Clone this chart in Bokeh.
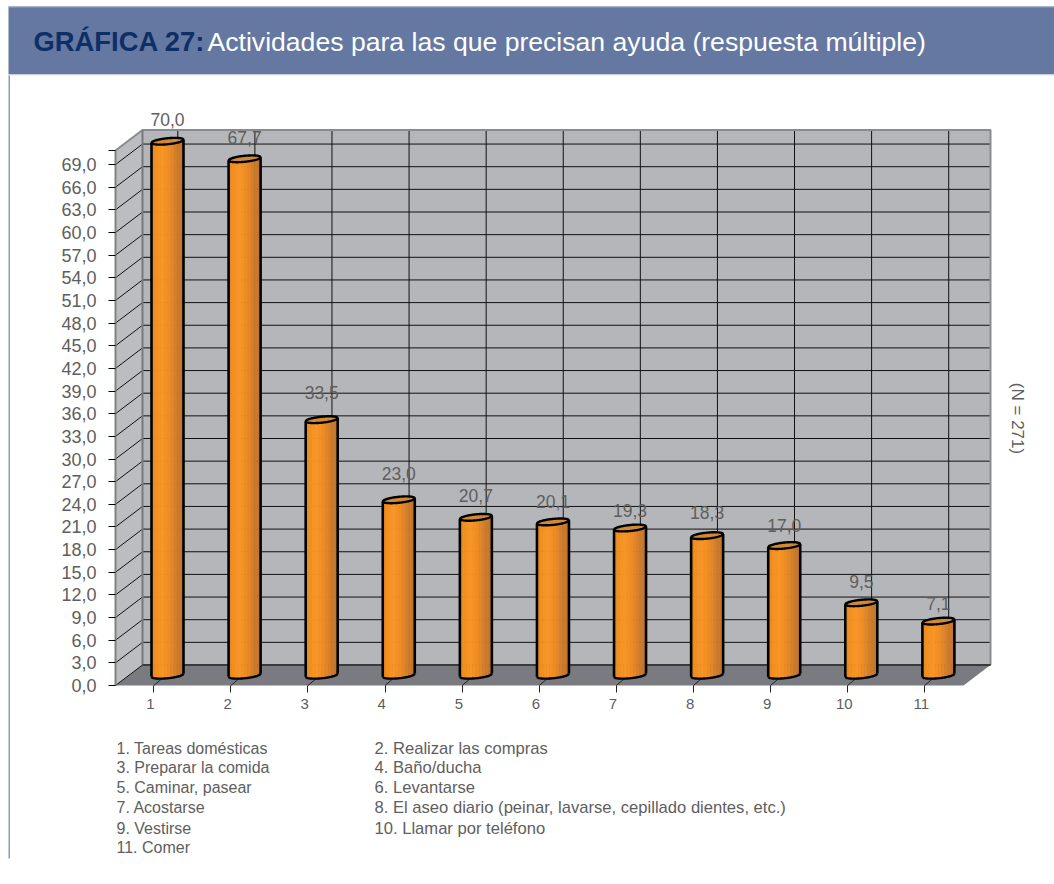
import numpy as np
from bokeh.embed import file_html
from bokeh.resources import INLINE
from bokeh.plotting import figure
from bokeh.models import FixedTicker, LinearAxis, Range1d
from bokeh.core.properties import value

categories = [1, 2, 3, 4, 5, 6, 7, 8, 9, 10, 11]
values = [70.0, 67.7, 33.5, 23.0, 20.7, 20.1, 19.3, 18.3, 17.0, 9.5, 7.1]
value_labels = ["70,0", "67,7", "33,5", "23,0", "20,7", "20,1", "19,3", "18,3", "17,0", "9,5", "7,1"]
label_gaps = [22, 21, 27, 26, 22, 20, 18, 23, 20, 21, 18]
y_ticks = [0, 3, 6, 9, 12, 15, 18, 21, 24, 27, 30, 33, 36, 39, 42, 45, 48, 51, 54, 57, 60, 63, 66, 69]
y_labels = ["0,0", "3,0", "6,0", "9,0", "12,0", "15,0", "18,0", "21,0", "24,0", "27,0", "30,0", "33,0",
            "36,0", "39,0", "42,0", "45,0", "48,0", "51,0", "54,0", "57,0", "60,0", "63,0", "66,0", "69,0"]
legend_left = ["1. Tareas domésticas", "3. Preparar la comida", "5. Caminar, pasear", "7. Acostarse", "9. Vestirse", "11. Comer"]
legend_right = ["2. Realizar las compras", "4. Baño/ducha", "6. Levantarse",
                "8. El aseo diario (peinar, lavarse, cepillado dientes, etc.)", "10. Llamar por teléfono"]
legend_rows = [748, 767, 787, 807, 828, 847]
strip_colors = ["#E88A22", "#F38F20", "#F7931E", "#F8952A", "#F59122", "#EE8C22",
                "#E2862A", "#D67F2A", "#CB7A2B", "#C3762B"]

TEXT = "#5e5e5e"
FONT = "Liberation Sans"
AX_TOP = 70.86          # top of the front axis
PX_X = 77.09            # pixels per category
PX_Y = 7.55             # pixels per axis unit
PX_BAR = 534 / 70       # pixels per bar unit (3D projection of the value scale)
X0 = 0.546              # front-left corner of the floor
X1 = X0 + 848 / PX_X    # front-right corner of the floor
DX = 27 / PX_X          # depth offset
DY = 20.5 / PX_Y
W, H = 1054, 884


def dx(px):
    return X0 + (px - 115) / PX_X


def dy(py):
    return (685 - py) / PX_Y


p = figure(width=W, height=H, output_backend="svg", toolbar_location=None,
           x_range=Range1d(dx(0), dx(W)), y_range=Range1d(dy(H), dy(0)),
           min_border=0, x_axis_type=None, y_axis_type=None, outline_line_color=None,
           background_fill_color="white", border_fill_color="white")
p.grid.visible = False
p.extra_y_ranges = {"bars": Range1d((685 - H) / PX_BAR, 685 / PX_BAR)}


# page furniture
def box(l, r, t, b, color):
    p.quad(left=dx(l), right=dx(r), top=dy(t), bottom=dy(b), fill_color=color, line_color=None)


box(8, 1054, 6, 74, "#6478A2")
box(8, 1054, 6, 7, "#98A6C4")
box(8, 1054, 74, 75, "#E4E8F0")
box(8, 9.5, 75, 858, "#8A9ABD")


def txt(x, y, s, size, color=TEXT, style="normal", angle=0.0, align="left"):
    p.text([dx(x)], [dy(y)], text=[s], text_font=value(FONT), text_font_size=size, text_color=color,
           text_font_style=style, text_baseline="middle", text_align=align, angle=angle)


txt(33, 41, "GRÁFICA 27:", "27.4px", "#0E2F66", "bold")
txt(207, 41, "Actividades para las que precisan ayuda (respuesta múltiple)", "26.6px", "white")
for y, s in zip(legend_rows, legend_left):
    txt(116, y, s, "16px")
for y, s in zip(legend_rows, legend_right):
    txt(374, y, s, "16.6px")
txt(1017, 418, "(N = 271)", "17px", angle=-np.pi / 2, align="center")

# walls and floor
p.patch([X0, X0 + DX, X0 + DX, X0], [0, DY, AX_TOP + DY, AX_TOP], fill_color="#BCBDC1", line_color=None)
p.patch([X0 + DX, X1 + DX, X1 + DX, X0 + DX], [DY, DY, AX_TOP + DY, AX_TOP + DY], fill_color="#B5B6BA", line_color=None)
p.patch([X0, X1, X1 + DX, X0 + DX], [0, 0, DY, DY], fill_color="#7A7B80", line_color=None)

# grid
p.segment([X0 + DX] * len(y_ticks), [t + DY for t in y_ticks], [X1 + DX] * len(y_ticks), [t + DY for t in y_ticks],
          line_color="#111111", line_width=1)
p.segment([X0] * len(y_ticks), y_ticks, [X0 + DX] * len(y_ticks), [t + DY for t in y_ticks],
          line_color="#111111", line_width=1)
back_x = [c + 27.3 / PX_X for c in categories]
p.segment(back_x, [DY] * 11, back_x, [AX_TOP + DY] * 11, line_color="#111111", line_width=1)
front_x = [c + 3.3 / PX_X for c in categories]
p.segment(front_x, [0] * 11, back_x, [DY] * 11, line_color="#222222", line_width=1)
# wall edges
p.line([X0, X0 + DX, X1 + DX, X1 + DX], [AX_TOP, AX_TOP + DY, AX_TOP + DY, DY], line_color="#8a8b8f", line_width=2)
p.line([X0 + DX, X0 + DX], [DY, AX_TOP + DY], line_color="#77787c", line_width=2)
p.line([X0 + DX, X1 + DX], [DY, DY], line_color="#3a3a3c", line_width=2)

# cylinders
R = 16.0 / PX_X         # radius in category units
B = 3.0                 # minor half axis, px
TILT = 1.6              # rise of the right end, px
base_px = 10.25 / PX_BAR
ts = np.linspace(-1, 1, 41)


def edge(c, v, t, sign):
    """y (bar units) of the ellipse around the value v at position t across the bar."""
    return v + base_px + (sign * B * np.sqrt(np.clip(1 - t * t, 0, 1)) + TILT * t) / PX_BAR


for c, v in zip(categories, values):
    cx = c + 17 / PX_X
    edges = np.linspace(-1, 1, len(strip_colors) + 1)
    xs, ys = [], []
    for a, b in zip(edges[:-1], edges[1:]):
        t = np.linspace(a, b, 6)
        xs.append(list(cx + R * t) + list(cx + R * t[::-1]))
        ys.append(list(edge(c, 0, t, -1)) + list(edge(c, v, t[::-1], -1)))
    p.patches(xs, ys, fill_color=strip_colors, line_color=strip_colors, line_width=0.5, y_range_name="bars")
    p.patch(list(cx + R * ts) + list(cx + R * ts[::-1]),
            list(edge(c, v, ts, 1)) + list(edge(c, v, ts[::-1], -1)),
            fill_color="#D08A35", line_color="black", line_width=2.4, y_range_name="bars")
    p.line(list(cx + R * ts), list(edge(c, 0, ts, -1)), line_color="black", line_width=2.4, y_range_name="bars")
    p.segment([cx - R, cx + R], [edge(c, 0, -1.0, -1), edge(c, 0, 1.0, -1)],
              [cx - R, cx + R], [edge(c, v, -1.0, -1), edge(c, v, 1.0, -1)],
              line_color="black", line_width=2.6, y_range_name="bars")

# value labels
p.text([c + 17 / PX_X for c in categories], [v + base_px for v in values], text=value_labels,
       y_offset=[-g for g in label_gaps], text_align="center", text_baseline="middle",
       text_font=value(FONT), text_font_size="17.5px", text_color=TEXT, y_range_name="bars")

# axes
yax = LinearAxis(ticker=FixedTicker(ticks=y_ticks + [AX_TOP]), bounds=(0, AX_TOP), fixed_location=X0,
                 major_label_overrides={**{t: l for t, l in zip(y_ticks, y_labels)}, AX_TOP: ""})
yax.axis_line_color = "#808184"
yax.axis_line_width = 2
yax.major_tick_line_color = "black"
yax.major_tick_line_width = 1
yax.major_tick_in = 0
yax.major_tick_out = 7
yax.minor_tick_line_color = None
yax.major_label_standoff = 12
yax.major_label_text_font = FONT
yax.major_label_text_font_size = "18px"
yax.major_label_text_color = TEXT
p.add_layout(yax, "left")

xax = LinearAxis(ticker=FixedTicker(ticks=front_x), axis_line_color=None, fixed_location=0,
                 major_label_overrides={x: "" for x in front_x})
xax.major_tick_line_color = "#222222"
xax.major_tick_line_width = 1
xax.major_tick_in = 0
xax.major_tick_out = 7
xax.minor_tick_line_color = None
xax.major_label_text_font_size = "1px"
p.add_layout(xax, "below")

xlab = LinearAxis(ticker=FixedTicker(ticks=categories), axis_line_color=None, fixed_location=0)
xlab.major_label_overrides = {c: str(c) for c in categories}
xlab.major_tick_line_color = None
xlab.minor_tick_line_color = None
xlab.major_tick_in = 0
xlab.major_tick_out = 0
xlab.major_label_standoff = 13
xlab.major_label_text_font = FONT
xlab.major_label_text_font_size = "15px"
xlab.major_label_text_color = TEXT
p.add_layout(xlab, "below")

open("out.html", "w").write(file_html(p, INLINE))
